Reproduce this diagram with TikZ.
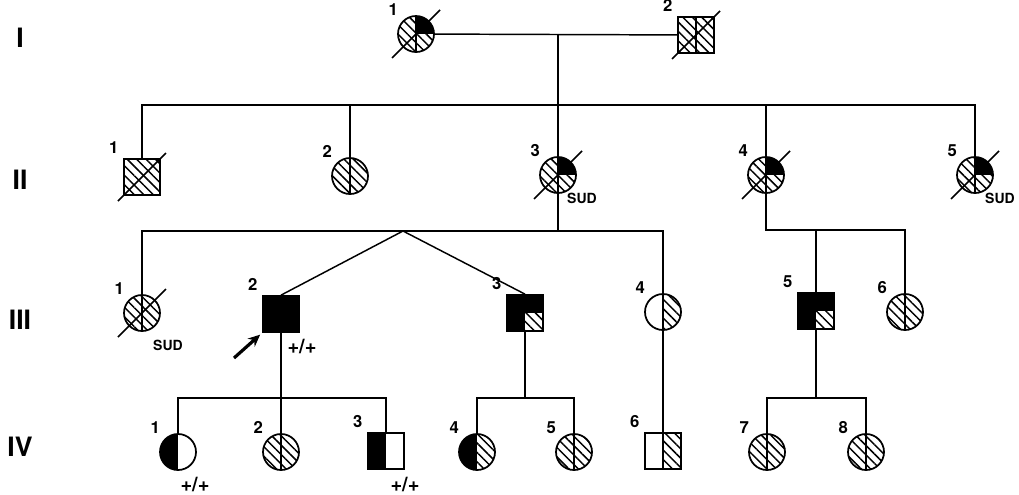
\documentclass[tikz,border=0pt]{standalone}
\usepackage{fontspec}
\setmainfont{TeX Gyre Heros}
\usetikzlibrary{arrows.meta,patterns.meta,calc}
\newcommand\ppb{path picture bounding box}
\tikzset{>=Stealth,every node/.style={font=\bfseries\fontsize{12.5}{14}\selectfont},ln/.style={line width=1.1pt},
ind/.style={draw,line width=1.3pt,inner sep=0pt,minimum size=27pt,fill=white},fem/.style={ind,circle},mal/.style={ind,rectangle},
hp/.style={pattern={Lines[angle=-45,distance=5pt,line width=1.1pt]}},vl/.style={line width=1pt},
hat/.style={path picture={\fill[hp] (\ppb.south west) rectangle (\ppb.north east);\draw[vl] (\ppb.north)--(\ppb.south);}},
hatn/.style={path picture={\fill[hp] (\ppb.south west) rectangle (\ppb.north east);}},
qblk/.style={path picture={\fill[hp] (\ppb.south west) rectangle (\ppb.north east);\fill[black] (\ppb.center) rectangle (\ppb.north east);\draw[vl] (\ppb.north)--(\ppb.south);}},
blk/.style={fill=black},
brhat/.style={fill=black,path picture={\fill[white] (\ppb.center) rectangle (\ppb.south east);\fill[hp] (\ppb.center) rectangle (\ppb.south east);}},
rhat/.style={path picture={\fill[hp] (\ppb.south) rectangle (\ppb.north east);\draw[vl] (\ppb.north)--(\ppb.south);}},
lblk/.style={path picture={\fill[black] (\ppb.south west) rectangle (\ppb.north);}},
lblkhat/.style={path picture={\fill[black] (\ppb.south west) rectangle (\ppb.north);\fill[hp] (\ppb.south) rectangle (\ppb.north east);}},
nr/.style={label={[label distance=0pt]135:#1}},
gen/.style={font=\bfseries\fontsize{20}{22}\selectfont},sud/.style={font=\bfseries\fontsize{10.5}{12}\selectfont},
gt/.style={font=\bfseries\fontsize{15}{16}\selectfont}}

\begin{document}
\begin{tikzpicture}[x=.75pt,y=-.75pt]
\useasboundingbox (0,0) rectangle (1019,494);
\foreach \g/\y in {I/38,II/180,III/320,IV/447}{\node[gen] (g\g) at (20,\y){\g};}
% generation I
\node[fem,qblk,nr=1] (I1) at (416,34){};\node[mal,hat,nr=2] (I2) at (696,35){};
\draw[ln] (I1)--(I2);\coordinate (c1) at (558,34);\coordinate (s2) at (558,105);
% generation II
\node[mal,hatn,nr=1] (II1) at (142,177){};\node[fem,hat,nr=2] (II2) at (350,176){};
\node[fem,qblk,nr=3] (II3) at (558,175){};\node[fem,qblk,nr=4] (II4) at (766,175){};\node[fem,qblk,nr=5] (II5) at (975,175){};
\draw[ln] (c1)--(s2);\draw[ln] (II1)|-(II5|-s2)--(II5);
\foreach \n in {II2,II3,II4}{\draw[ln] (\n)--(\n|-s2);}
\node[sud] (sud2) at (582,198){SUD};\node[sud] (sud5) at (1000,198){SUD};
% generation III
\coordinate (s3) at (558,231);\coordinate (tw) at (403,231);\coordinate (s3b) at (766,230);
\node[fem,hat,nr=1] (III1) at (142,313){};\node[mal,blk,nr=2] (III2) at (281,314){};\node[mal,brhat,nr=3] (III3) at (525,313){};
\node[fem,rhat,nr=4] (III4) at (663,312){};\node[mal,brhat,nr=5] (III5) at (816,311){};\node[fem,hat,nr=6] (III6) at (905,312){};
\draw[ln] (II3)--(s3);\draw[ln] (III1)|-(III4|-s3)--(III4);\draw[ln] (III2.north)--(tw)--(III3.north);
\draw[ln] (II4)|-(III6|-s3b)--(III6);\draw[ln] (III5)--(III5|-s3b);
\node[sud] (sud1) at (168,345){SUD};\node[gt] (gt2) at (302,346){+/+};
\coordinate (pb) at (234,358);\draw[-{Stealth[length=9pt,width=8pt]},line width=2.4pt,shorten >=2pt] (pb)--(III2.south west);
% generation IV
\coordinate (s4) at (0,398);
\node[fem,lblk,nr=1] (IV1) at (178,452){};\node[fem,hat,nr=2] (IV2) at (281,452){};\node[mal,lblk,nr=3] (IV3) at (386,451){};
\node[fem,lblkhat,nr=4] (IV4) at (477,452){};\node[fem,hat,nr=5] (IV5) at (574,452){};\node[mal,rhat,nr=6] (IV6) at (663,451){};
\node[fem,hat,nr=7] (IV7) at (767,452){};\node[fem,hat,nr=8] (IV8) at (866,452){};
\draw[ln] (III2)--(IV2);\draw[ln] (IV1)|-(IV3|-s4)--(IV3);
\draw[ln] (III3)--(III3|-s4);\draw[ln] (IV4)|-(IV5|-s4)--(IV5);
\draw[ln] (III4)--(IV6);
\draw[ln] (III5)--(III5|-s4);\draw[ln] (IV7)|-(IV8|-s4)--(IV8);
\node[gt] (gt41) at (195,484){+/+};\node[gt] (gt43) at (405,484){+/+};
% deceased
\foreach \n in {I1,I2,II1,II3,II4,II5,III1}{\draw[ln] (\n.center)++(-24,24)--++(48,-48);}
\end{tikzpicture}
\end{document}
